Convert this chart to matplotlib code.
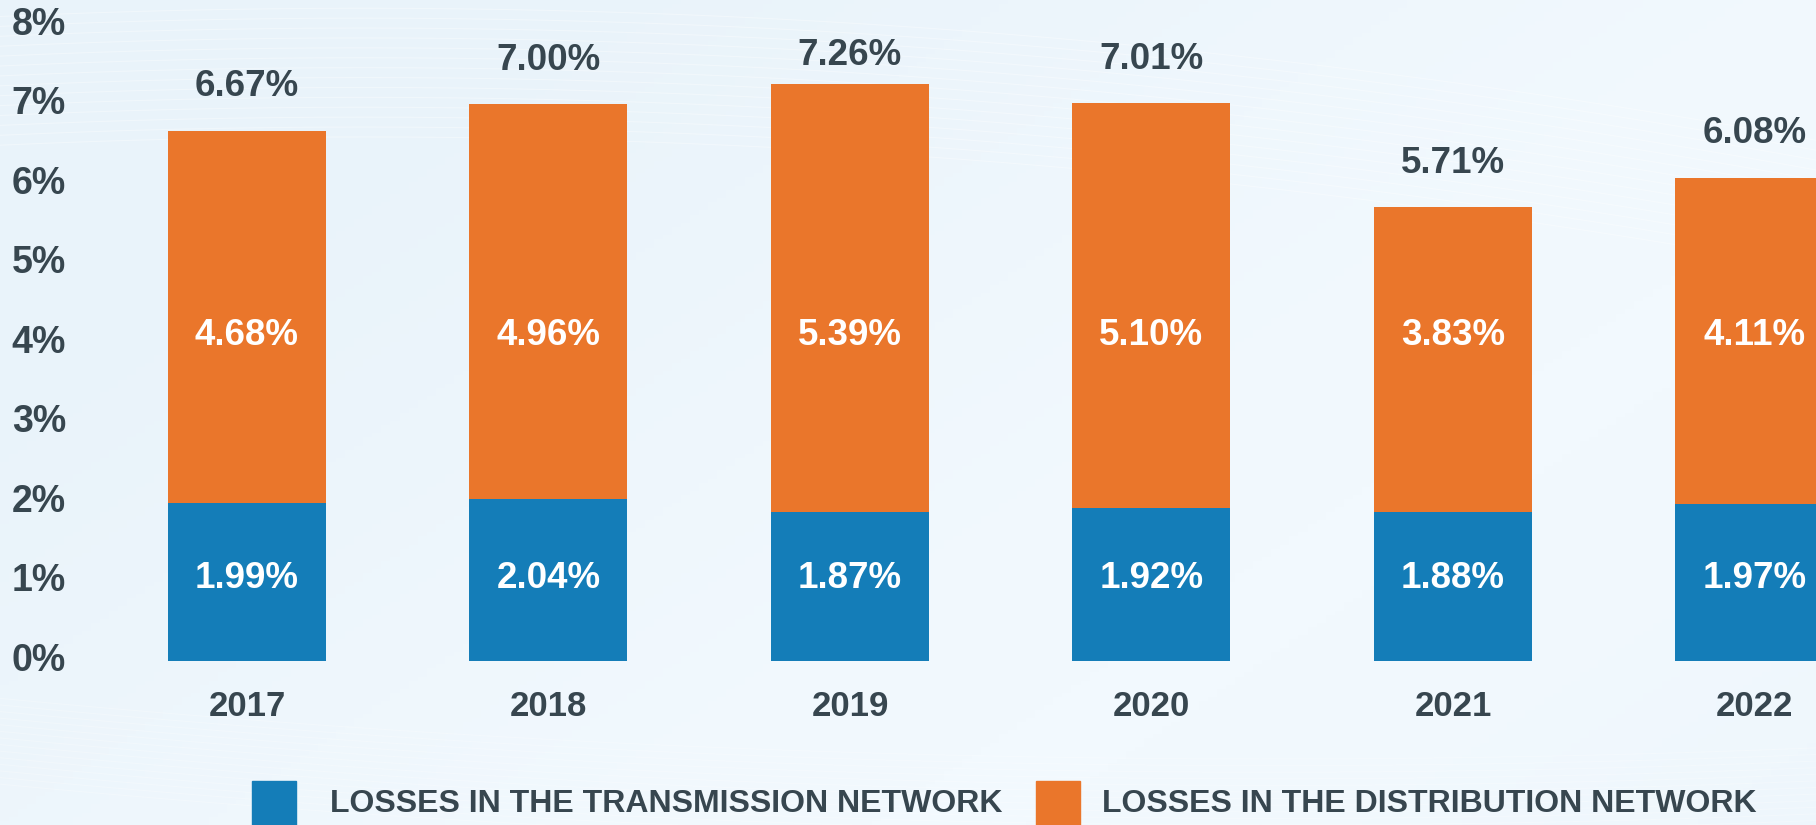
import numpy as np
import matplotlib
matplotlib.use("Agg")
import matplotlib.pyplot as plt
from matplotlib.patches import Rectangle

# ───── Data ─────
years        = ["2017", "2018", "2019", "2020", "2021", "2022"]
transmission = [1.99, 2.04, 1.87, 1.92, 1.88, 1.97]
distribution = [4.68, 4.96, 5.39, 5.10, 3.83, 4.11]
totals       = [6.67, 7.00, 7.26, 7.01, 5.71, 6.08]
y_ticks      = [0, 1, 2, 3, 4, 5, 6, 7, 8]
legend_names = ["LOSSES IN THE TRANSMISSION NETWORK", "LOSSES IN THE DISTRIBUTION NETWORK"]

# ───── Style ─────
BLUE   = "#147db8"
ORANGE = "#ea762b"
DARK   = "#37464f"
BG     = "#eef7fd"
FONT   = ["Liberation Sans", "DejaVu Sans"]

plt.rcParams["font.family"] = FONT
plt.rcParams["font.weight"] = "bold"

fig = plt.figure(figsize=(18.16, 8.25), dpi=100, facecolor=BG)

# soft background with faint swoosh lines
bg = fig.add_axes([0, 0, 1, 1], zorder=0)
bg.set_xlim(0, 1)
bg.set_ylim(0, 1)
bg.axis("off")
gy, gx = np.mgrid[0:1:200j, 0:1:200j]
grad = 0.5 + 0.5 * np.sin(3.0 * gx - 2.0 * gy)
bg.imshow(grad, extent=(0, 1, 0, 1), origin="lower", aspect="auto",
          cmap=matplotlib.colors.LinearSegmentedColormap.from_list("bg", ["#e9f3fa", "#f2f9fe"]))
t = np.linspace(0, 1, 200)
for k in range(14):
    bg.plot(t, 0.98 - 0.012 * k + 0.10 * t - 0.25 * t ** 2, color="white", lw=0.8, alpha=0.35)
    bg.plot(t, 0.08 - 0.008 * k + 0.15 * (t - 0.7) ** 2, color="white", lw=0.8, alpha=0.25)

ax = fig.add_axes([0, 0, 1, 1], zorder=1)
ax.patch.set_alpha(0)
x = np.arange(len(years))
W = 0.524

ax.bar(x, transmission, W, color=BLUE)
ax.bar(x, distribution, W, bottom=transmission, color=ORANGE)

for i in range(len(years)):
    ax.text(x[i], 1.04, f"{transmission[i]:.2f}%", ha="center", va="center",
            color="white", fontsize=26.5, fontweight="bold")
    ax.text(x[i], 4.10, f"{distribution[i]:.2f}%", ha="center", va="center",
            color="white", fontsize=26.5, fontweight="bold")
    ax.text(x[i], min(totals[i] + 0.55, 7.62), f"{totals[i]:.2f}%", ha="center", va="center",
            color=DARK, fontsize=26.5, fontweight="bold")
    ax.text(x[i], -0.57, years[i], ha="center", va="center",
            color=DARK, fontsize=25, fontweight="bold")

for v in y_ticks:
    ax.text(-0.78, v, f"{v}%", ha="left", va="center",
            color=DARK, fontsize=27, fontweight="bold")

ax.set_xlim(-0.819, 5.204)
ax.set_ylim(-2.063, 8.314)
ax.axis("off")

# ───── Legend ─────
leg_colors = [BLUE, ORANGE]
box_x  = [252, 1036]
text_x = [330, 1102]
for c, bx, tx, name in zip(leg_colors, box_x, text_x, legend_names):
    fig.add_artist(Rectangle((bx / 1816, -0.01), 44 / 1816, 52 / 825,
                             transform=fig.transFigure, color=c, zorder=3))
    fig.text(tx / 1816, 21 / 825, name, ha="left", va="center",
             color=DARK, fontsize=23, fontweight="bold", zorder=3)

fig.savefig("out.png", dpi=100, facecolor=BG)
